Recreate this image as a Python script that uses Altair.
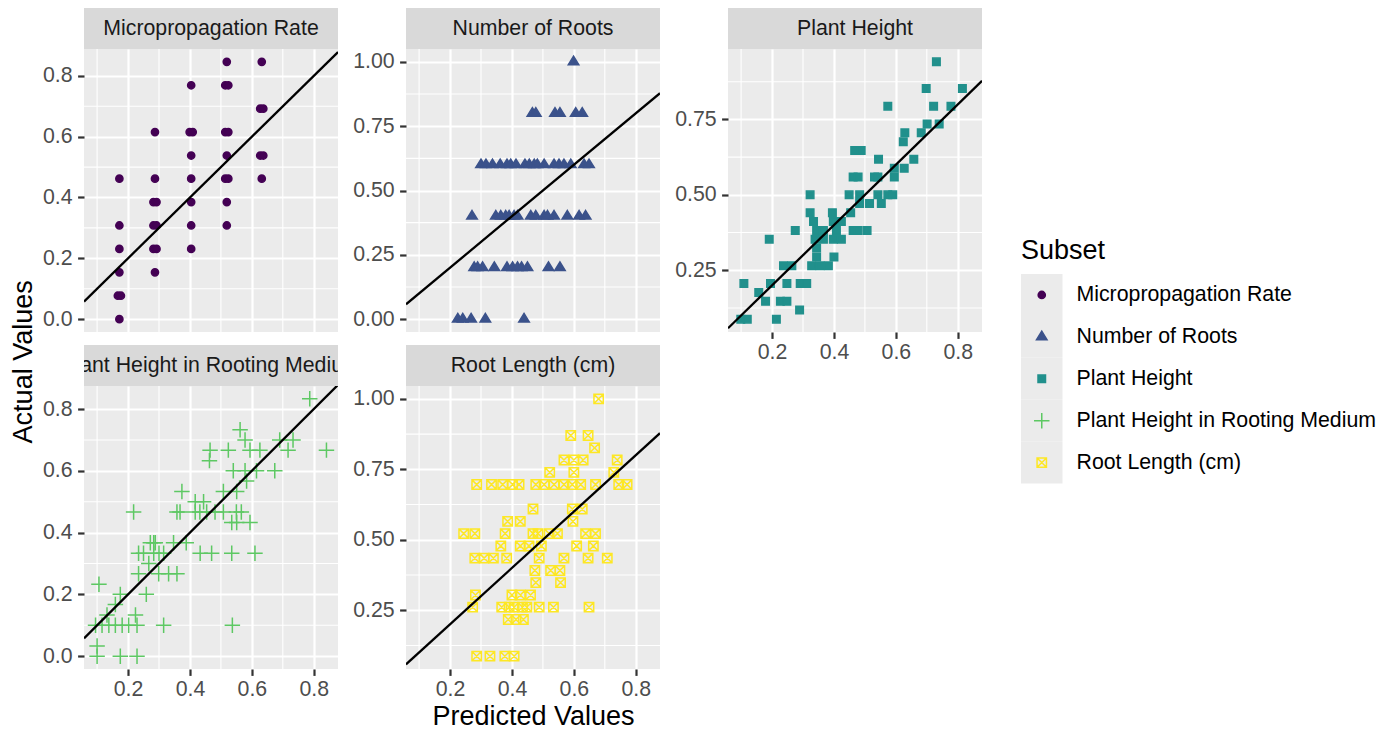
import altair as alt
import pandas as pd

# ---------------- data ----------------
subsets = ["Micropropagation Rate", "Number of Roots", "Plant Height",
           "Plant Height in Rooting Medium", "Root Length (cm)"]
colors = ["#440154", "#3B528B", "#21908C", "#5DC863", "#FDE725"]
fills = ["#440154", "#3B528B", "#21908C", "#5DC863", "transparent"]
shape_paths = [
    "M0,-0.6A0.6,0.6,0,1,1,0,0.6A0.6,0.6,0,1,1,0,-0.6Z",
    "M0,-0.947L0.875,0.473L-0.875,0.473Z",
    "M-0.625,-0.625L0.625,-0.625L0.625,0.625L-0.625,0.625Z",
    "M-1.29,0L1.29,0M0,-1.29L0,1.29",
    "M-0.78,-0.78L0.78,-0.78L0.78,0.78L-0.78,0.78ZM-0.78,-0.78L0.78,0.78M-0.78,0.78L0.78,-0.78",
]

# Micropropagation Rate: actual levels and predicted values at each level
mr_levels = [0.846, 0.769, 0.692, 0.615, 0.538, 0.462, 0.385, 0.308, 0.231, 0.154, 0.077, 0.0]
mr_pred = [
    [0.519, 0.632],
    [0.404, 0.514, 0.524],
    [0.627, 0.637],
    [0.287, 0.399, 0.409, 0.514, 0.524],
    [0.404, 0.519, 0.627, 0.637],
    [0.172, 0.287, 0.404, 0.514, 0.524, 0.632],
    [0.282, 0.292, 0.404, 0.519],
    [0.172, 0.282, 0.292, 0.404, 0.519],
    [0.172, 0.282, 0.292, 0.404],
    [0.172, 0.287],
    [0.167, 0.177],
    [0.172],
]

# Number of Roots
nr_levels = [1.0, 0.8, 0.6, 0.4, 0.2, 0.0]
nr_pred = [
    [0.599],
    [0.466, 0.477, 0.539, 0.555, 0.606, 0.627],
    [0.300, 0.316, 0.337, 0.362, 0.384, 0.396, 0.413, 0.442, 0.456, 0.472, 0.482,
     0.504, 0.536, 0.552, 0.568, 0.590, 0.633, 0.649],
    [0.271, 0.348, 0.364, 0.380, 0.391, 0.407, 0.418, 0.461, 0.477, 0.504, 0.515,
     0.536, 0.579, 0.617, 0.638],
    [0.278, 0.289, 0.305, 0.343, 0.384, 0.402, 0.418, 0.431, 0.450, 0.518, 0.555],
    [0.225, 0.241, 0.268, 0.314, 0.439],
]

# Plant Height
ph_levels = [0.941, 0.853, 0.794, 0.735, 0.706, 0.676, 0.647, 0.618, 0.588, 0.559, 0.500,
             0.471, 0.441, 0.412, 0.382, 0.353, 0.324, 0.294, 0.265, 0.206, 0.176, 0.147,
             0.118, 0.088]
ph_pred = [
    [0.731], [0.698, 0.815], [0.574, 0.722, 0.778], [0.701, 0.740], [0.629, 0.682],
    [0.624], [0.467, 0.488], [0.544, 0.658], [0.595, 0.627],
    [0.462, 0.478, 0.531, 0.542, 0.595],
    [0.323, 0.449, 0.483, 0.542, 0.574, 0.590],
    [0.483, 0.515, 0.553], [0.323, 0.395, 0.454], [0.334, 0.398, 0.424],
    [0.275, 0.344, 0.366, 0.408, 0.462, 0.478, 0.507],
    [0.191, 0.339, 0.366, 0.398, 0.424], [0.344], [0.344, 0.400],
    [0.237, 0.264, 0.328, 0.355, 0.382],
    [0.109, 0.195, 0.248, 0.291, 0.312], [0.157], [0.179, 0.227, 0.248], [0.289],
    [0.099, 0.120, 0.214],
]

# Plant Height in Rooting Medium
phr_levels = [0.833, 0.733, 0.700, 0.667, 0.633, 0.600, 0.567, 0.533, 0.500, 0.467,
              0.433, 0.367, 0.333, 0.300, 0.267, 0.233, 0.200, 0.167, 0.133, 0.100,
              0.033, 0.0]
phr_pred = [
    [0.787], [0.562], [0.578, 0.690, 0.733],
    [0.465, 0.524, 0.594, 0.626, 0.717, 0.841],
    [0.463], [0.540, 0.578, 0.615, 0.674], [0.583], [0.374, 0.508, 0.551],
    [0.417, 0.444],
    [0.218, 0.358, 0.368, 0.417, 0.432, 0.454, 0.481, 0.508, 0.550, 0.566],
    [0.535, 0.551, 0.594], [0.272, 0.283, 0.288, 0.347, 0.388],
    [0.234, 0.250, 0.283, 0.300, 0.315, 0.433, 0.470, 0.535, 0.610],
    [0.267], [0.234, 0.299, 0.331, 0.358], [0.106], [0.175, 0.259], [0.159],
    [0.132, 0.224],
    [0.095, 0.116, 0.138, 0.159, 0.181, 0.202, 0.229, 0.315, 0.537],
    [0.100], [0.100, 0.175, 0.229],
]

# Root Length (cm)
rl_levels = [1.0, 0.870, 0.826, 0.783, 0.739, 0.696, 0.609, 0.565, 0.522, 0.478, 0.435,
             0.391, 0.348, 0.304, 0.261, 0.217, 0.087]
rl_pred = [
    [0.680], [0.590, 0.646], [0.667], [0.568, 0.600, 0.630, 0.740], [0.522, 0.600, 0.729],
    [0.286, 0.334, 0.370, 0.402, 0.423, 0.477, 0.504, 0.536, 0.568, 0.595, 0.622, 0.670,
     0.745, 0.772],
    [0.468, 0.595, 0.627], [0.386, 0.427, 0.597],
    [0.244, 0.280, 0.378, 0.468, 0.484, 0.520, 0.547, 0.638, 0.670],
    [0.364, 0.427, 0.455, 0.495, 0.609, 0.663],
    [0.280, 0.310, 0.340, 0.383, 0.488, 0.568, 0.646, 0.708],
    [0.474, 0.525, 0.555], [0.477, 0.557], [0.282, 0.400, 0.427, 0.460],
    [0.273, 0.367, 0.391, 0.407, 0.434, 0.448, 0.488, 0.534, 0.649],
    [0.388, 0.413, 0.437], [0.286, 0.329, 0.377, 0.407],
]

x_ticks = [0.2, 0.4, 0.6, 0.8]
x_minor = [0.1, 0.3, 0.5, 0.7]


def rows_for(name, levels, preds):
    out = []
    for lv, ps in zip(levels, preds):
        for p in ps:
            out.append({"subset": name, "pred": p, "actual": lv})
    return out


df = pd.DataFrame(
    rows_for(subsets[0], mr_levels, mr_pred)
    + rows_for(subsets[1], nr_levels, nr_pred)
    + rows_for(subsets[2], ph_levels, ph_pred)
    + rows_for(subsets[3], phr_levels, phr_pred)
    + rows_for(subsets[4], rl_levels, rl_pred)
)

xmin, xmax = df["pred"].min(), df["pred"].max()
xpad = 0.05 * (xmax - xmin)
xdom = [xmin - xpad, xmax + xpad]

# ---------------- style ----------------
FONT = "Liberation Sans"
W, H, SH = 254, 283, 41
FS_SMALL, FS_TITLE = 21.3, 27

stroke_scale = alt.Scale(domain=subsets, range=colors)
fill_scale = alt.Scale(domain=subsets, range=fills)
shape_scale = alt.Scale(domain=subsets, range=shape_paths)


def symbol_enc():
    return dict(
        shape=alt.Shape("subset:N", scale=shape_scale, legend=None),
        stroke=alt.Stroke("subset:N", scale=stroke_scale, legend=None),
        fill=alt.Fill("subset:N", scale=fill_scale, legend=None),
    )


def panel(name, yticks, yminor, yfmt, xlabels, xtitle=None):
    d = df[df["subset"] == name]
    lo, hi = d["actual"].min(), d["actual"].max()
    pad = 0.05 * (hi - lo)
    ydom = [lo - pad, hi + pad]
    xs = alt.Scale(domain=xdom, nice=False, zero=False)
    ys = alt.Scale(domain=ydom, nice=False, zero=False)

    xaxis = alt.Axis(values=x_ticks, format=".1f", labels=xlabels, ticks=xlabels,
                     title=xtitle, grid=True)
    yaxis = alt.Axis(values=yticks, format=yfmt, title=None, grid=True)

    vminor = alt.Chart(pd.DataFrame({"v": x_minor})).mark_rule(
        color="white", strokeWidth=1.1, clip=True
    ).encode(x=alt.X("v:Q", scale=xs, axis=xaxis))
    hminor = alt.Chart(pd.DataFrame({"v": yminor})).mark_rule(
        color="white", strokeWidth=1.1, clip=True
    ).encode(y=alt.Y("v:Q", scale=ys, axis=yaxis))

    pts = alt.Chart(d).mark_point(size=144, opacity=1, strokeWidth=1.5).encode(
        x=alt.X("pred:Q", scale=xs, axis=xaxis),
        y=alt.Y("actual:Q", scale=ys, axis=yaxis),
        **symbol_enc(),
    )
    ref = alt.Chart(pd.DataFrame({"x": xdom, "y": xdom})).mark_line(
        color="black", strokeWidth=2.3, clip=True
    ).encode(x=alt.X("x:Q", scale=xs, axis=xaxis), y=alt.Y("y:Q", scale=ys, axis=yaxis))

    main = alt.layer(vminor, hminor, pts, ref).properties(
        width=W, height=H, view=alt.ViewBackground(fill="#EBEBEB", stroke=None)
    )
    strip = alt.Chart(pd.DataFrame({"label": [name]})).mark_text(
        font=FONT, fontSize=FS_SMALL, color="#1A1A1A", clip=True
    ).encode(text="label:N", x=alt.value(W / 2), y=alt.value(SH / 2)).properties(
        width=W, height=SH, view=alt.ViewBackground(fill="#D9D9D9", stroke=None)
    )
    return alt.vconcat(strip, main, spacing=0)


maj1 = [0.0, 0.2, 0.4, 0.6, 0.8]
min1 = [0.1, 0.3, 0.5, 0.7]
maj2 = [0.0, 0.25, 0.5, 0.75, 1.0]
min2 = [0.125, 0.375, 0.625, 0.875]

p1 = panel(subsets[0], maj1, min1, ".1f", False)
p2 = panel(subsets[1], maj2, min2, ".2f", False)
p3 = panel(subsets[2], [0.25, 0.5, 0.75], min2, ".2f", True)
p4 = panel(subsets[3], maj1, min1, ".1f", True)
p5 = panel(subsets[4], [0.25, 0.5, 0.75, 1.0], min2, ".2f", True, "Predicted Values")

col1 = alt.vconcat(p1, p4, spacing=13)
col2 = alt.vconcat(p2, p5, spacing=13)
grid = alt.hconcat(col1, col2, p3, spacing=14)

# ---------------- legend ----------------
leg_df = pd.DataFrame({"subset": subsets})
leg_y = alt.Y("subset:N", sort=subsets,
              scale=alt.Scale(paddingInner=0, paddingOuter=0), axis=None)
leg_bg = alt.Chart(leg_df).mark_rect(color="#EBEBEB").encode(
    y=leg_y, x=alt.value(0), x2=alt.value(41.5))
leg_sym = alt.Chart(leg_df).mark_point(size=144, opacity=1, strokeWidth=1.5).encode(
    y=leg_y, x=alt.value(20.75), **symbol_enc())
leg_txt = alt.Chart(leg_df).mark_text(
    align="left", font=FONT, fontSize=FS_SMALL, color="#000000").encode(
    y=leg_y, x=alt.value(55.5), text="subset:N")
legend_body = alt.layer(leg_bg, leg_sym, leg_txt).properties(
    width=325, height=209.6,
    title=alt.TitleParams("Subset", anchor="start", fontSize=FS_TITLE, font=FONT,
                          fontWeight="normal", color="#000000", offset=9),
    view=alt.ViewBackground(stroke=None),
)
spacer = alt.Chart(pd.DataFrame({"a": [0]})).mark_point(opacity=0, size=1).encode(
    x=alt.value(5), y=alt.value(50)
).properties(width=10, height=228, view=alt.ViewBackground(stroke=None))
legend_col = alt.vconcat(spacer, legend_body, spacing=0)

chart = alt.hconcat(grid, legend_col, spacing=39).properties(
    title=alt.TitleParams("Actual Values", orient="left", anchor="middle",
                          fontSize=FS_TITLE, font=FONT, fontWeight="normal",
                          color="#000000", offset=4, dx=7),
    padding={"left": 2, "top": 0, "right": 2, "bottom": 0},
).configure(font=FONT).configure_axis(
    labelFont=FONT, labelFontSize=FS_SMALL, labelColor="#4D4D4D",
    tickColor="#333333", tickSize=6.4, tickWidth=2.2, domain=False,
    gridColor="white", gridWidth=2.2,
    titleFont=FONT, titleFontSize=FS_TITLE, titleFontWeight="normal", titleColor="#000000",
    titlePadding=4,
).configure_axisX(labelPadding=3).configure_axisY(labelPadding=5.5)

chart.save("out.html", embed_options={"renderer": "svg", "actions": False})
